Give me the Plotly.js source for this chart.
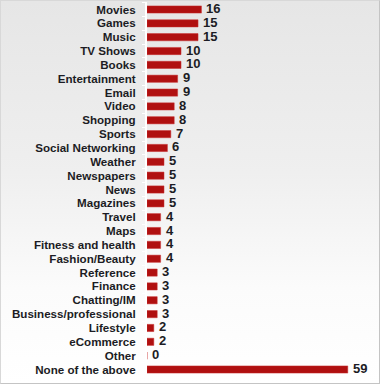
<!DOCTYPE html>
<html><head><meta charset="utf-8">
<script src="https://cdn.plot.ly/plotly-3.0.1.min.js"></script>
<style>
html,body{margin:0;padding:0;}
#wrap{width:378px;height:382px;border:1px solid #c4c4c4;border-top-color:#d8d8d8;border-left-color:#d8d8d8;
background:linear-gradient(to bottom,#e6e6e6 0%,#efefef 45%,#fbfbfb 75%,#ffffff 100%);}
#chart{width:378px;height:382px;}
</style></head><body>
<div id="wrap"><div id="chart"></div></div>
<script>
var categories = ["Movies","Games","Music","TV Shows","Books","Entertainment","Email","Video","Shopping","Sports","Social Networking","Weather","Newspapers","News","Magazines","Travel","Maps","Fitness and health","Fashion/Beauty","Reference","Finance","Chatting/IM","Business/professional","Lifestyle","eCommerce","Other","None of the above"];
var values = [16,15,15,10,10,9,9,8,8,7,6,5,5,5,5,4,4,4,4,3,3,3,3,2,2,0,59];

var trace = {
  type:'bar', orientation:'h',
  y: categories, x: values,
  marker:{color:'#b01010', line:{color:'#c83030', width:0.5}},
  width:0.52,
  cliponaxis:false,
  hoverinfo:'none'
};
var annotations = categories.map(function(c,i){
  return {x:values[i], y:c, xref:'x', yref:'y', text:String(values[i]),
    showarrow:false, xanchor:'left', yanchor:'middle', xshift:4, yshift:1,
    borderpad:0,
    font:{family:'Liberation Sans, Arial, sans-serif', size:13, color:'#1c1c24', weight:'bold'}};
});
var layout = {
  width:378, height:382,
  margin:{l:146, r:4, t:1, b:4},
  paper_bgcolor:'rgba(0,0,0,0)', plot_bgcolor:'rgba(0,0,0,0)',
  showlegend:false,
  annotations:annotations,
  xaxis:{range:[0,67], visible:false, fixedrange:true},
  yaxis:{type:'category', autorange:'reversed', showgrid:false, zeroline:false,
    tickmode:'array', tickvals:categories, ticktext:categories,
    showline:true, linecolor:'#ffffff', linewidth:2,
    ticks:'outside', ticklen:3, tickcolor:'#ffffff', tickson:'boundaries',
    ticklabelstandoff:7,
    tickfont:{family:'Liberation Sans, Arial, sans-serif', size:11.6, color:'#1c1c24', weight:'bold'}}
};
Plotly.newPlot('chart',[trace],layout,{displayModeBar:false, staticPlot:true});
</script>
</body></html>
